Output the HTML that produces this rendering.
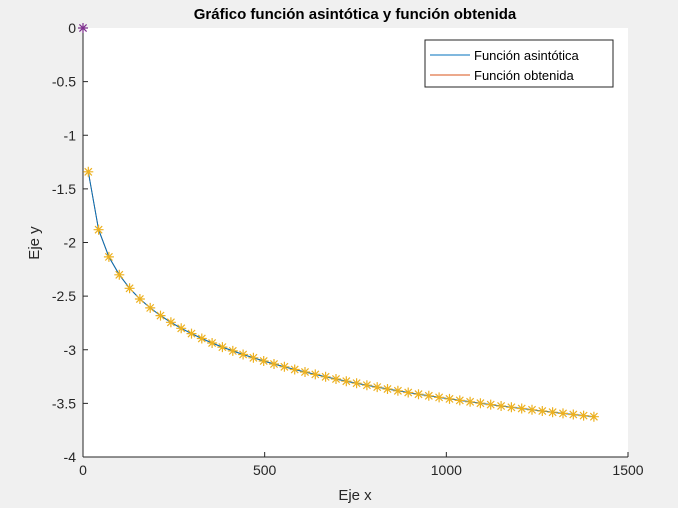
<!DOCTYPE html>
<html><head><meta charset="utf-8"><style>
html,body{margin:0;padding:0;background:#f0f0f0;}
svg{display:block;font-family:"Liberation Sans",Arial,sans-serif;}
</style></head><body>
<svg id="s" width="678" height="508" xmlns="http://www.w3.org/2000/svg">
<rect x="0" y="0" width="678" height="508" fill="#f0f0f0"/>
<rect x="83" y="28" width="545" height="429" fill="#fff"/>
<line x1="83" y1="28" x2="83" y2="457" stroke="#262626"/>
<line x1="83" y1="457" x2="628" y2="457" stroke="#262626"/>
<g id="ticks" stroke="#262626" stroke-width="1"></g>
<g id="lbl" font-size="14" fill="#262626"></g>
<g id="data"></g>
<text x="355" y="19" font-size="15" font-weight="bold" text-anchor="middle" fill="#000">Gráfico función asintótica y función obtenida</text>
<text x="355" y="500" font-size="15" text-anchor="middle" fill="#262626">Eje x</text>
<text x="39" y="243" font-size="15" text-anchor="middle" fill="#262626" transform="rotate(-90 39 243)">Eje y</text>
<rect x="425" y="40" width="188" height="47" fill="#fff" stroke="#262626" stroke-width="1"/>
<line x1="430" y1="55" x2="470" y2="55" stroke="#0072BD" stroke-width="1"/>
<line x1="430" y1="75" x2="470" y2="75" stroke="#D95319" stroke-width="1"/>
<text x="474" y="60" font-size="13" fill="#000">Función asintótica</text>
<text x="474" y="80" font-size="13" fill="#000">Función obtenida</text>
</svg>
<script>
var NS="http://www.w3.org/2000/svg";
function X(v){return 83+v*545/1500;}
function Y(v){return 28-v*429/4;}
function el(p,t,a,txt){var e=document.createElementNS(NS,t);for(var k in a)e.setAttribute(k,a[k]);if(txt!=null)e.textContent=txt;document.getElementById(p).appendChild(e);return e;}
for(var i=0;i<=3;i++){var x=X(i*500);el("ticks","line",{x1:x,y1:457,x2:x,y2:452});
el("lbl","text",{x:x,y:475,"text-anchor":"middle"},String(i*500));}
for(var j=0;j<=8;j++){var v=-j*0.5,y=Y(v);el("ticks","line",{x1:83,y1:y,x2:88,y2:y});
el("lbl","text",{x:76,y:y+5,"text-anchor":"end"},(v===0?"0":String(v)));}
var pts=[];
for(var k=0;k<50;k++){var xv=14.6+k*28.4,yv=-0.5*Math.log(xv);pts.push(X(xv).toFixed(1)+","+Y(yv).toFixed(1));}
function star(x,y){var r=5,q=3.6;return "M"+(x-r)+","+y+"h"+(2*r)+"M"+x+","+(y-r)+"v"+(2*r)+"M"+(x-q)+","+(y-q)+"l"+(2*q)+","+(2*q)+"M"+(x-q)+","+(y+q)+"l"+(2*q)+","+(-2*q);}
var d="";for(var i2=0;i2<50;i2++){var p=pts[i2].split(",");d+=star(parseFloat(p[0]),parseFloat(p[1]));}
el("data","polyline",{points:pts.join(" "),fill:"none",stroke:"#D95319","stroke-width":1});
el("data","polyline",{points:pts.join(" "),fill:"none",stroke:"#0072BD","stroke-width":1});
el("data","path",{d:d,fill:"none",stroke:"#EDB120","stroke-width":1.2});
el("data","path",{d:star(X(0),Y(0)),fill:"none",stroke:"#7E2F8E","stroke-width":1.2});
</script>
</body></html>
